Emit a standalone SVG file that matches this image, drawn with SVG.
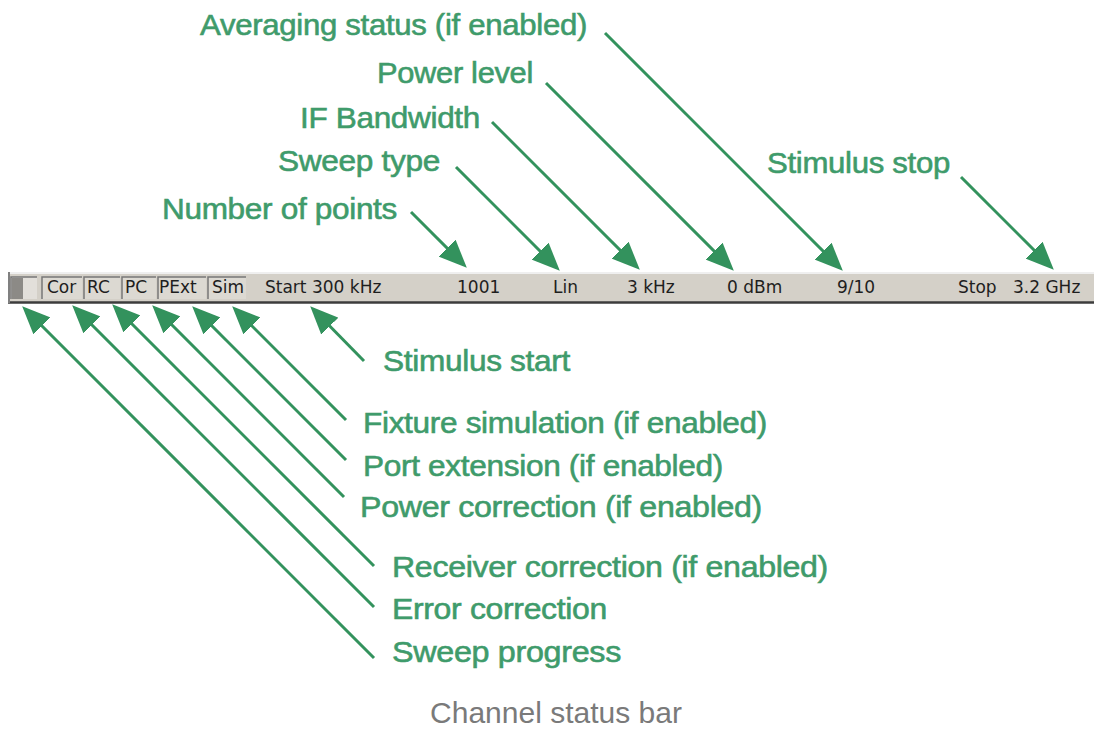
<svg xmlns="http://www.w3.org/2000/svg" width="1094" height="729" viewBox="0 0 1094 729">
<defs>
<marker id="ah" markerUnits="userSpaceOnUse" markerWidth="28" markerHeight="24" viewBox="0 0 28 24" refX="24" refY="12" orient="auto">
<path d="M0,0 L28,12 L0,24 z" fill="#33925d"/>
</marker>
<style>
.lbl{font-family:"Liberation Sans",Arial,sans-serif;font-size:30px;fill:#3f9b6b;stroke:#3f9b6b;stroke-width:0.6px;letter-spacing:-0.3px}
.bar{font-family:"DejaVu Sans",Tahoma,sans-serif;font-size:17px;fill:#1e1e1e}
.cell{fill:#dcd9d2;stroke:none}
.cap{font-family:"Liberation Sans",Arial,sans-serif;font-size:30px;fill:#7a7a7a}
.arr{stroke:#33925d;stroke-width:3;fill:none;marker-end:url(#ah)}
</style>
</defs>
<rect width="1094" height="729" fill="#ffffff"/>

<g id="statusbar">
<rect x="8" y="272" width="1086" height="31" fill="#d4d0c8"/>
<line x1="8" y1="273" x2="1094" y2="273" stroke="#efefef" stroke-width="2"/>
<line x1="8" y1="302.5" x2="1094" y2="302.5" stroke="#3c3c3c" stroke-width="2.5"/>
<line x1="9" y1="272" x2="9" y2="303" stroke="#808080" stroke-width="2"/>
<g id="cell-progress">
<rect x="11" y="277" width="26" height="22" fill="#e2dfda"/>
<rect x="12" y="278" width="11" height="21" fill="#8c8a86"/>
<path d="M11,299 V277 H37" stroke="#777" stroke-width="1.5" fill="none"/>
</g>
<g id="cell-cor"><rect class="cell" x="42" y="277" width="40" height="22"/><path d="M42,299 V277 H82" stroke="#777" stroke-width="1.5" fill="none"/><text class="bar" x="47" y="293">Cor</text></g>
<g id="cell-rc"><rect class="cell" x="84" y="277" width="36" height="22"/><path d="M84,299 V277 H120" stroke="#777" stroke-width="1.5" fill="none"/><text class="bar" x="87" y="293">RC</text></g>
<g id="cell-pc"><rect class="cell" x="122" y="277" width="34" height="22"/><path d="M122,299 V277 H156" stroke="#777" stroke-width="1.5" fill="none"/><text class="bar" x="125" y="293">PC</text></g>
<g id="cell-pext"><rect class="cell" x="158" y="277" width="48" height="22"/><path d="M158,299 V277 H206" stroke="#777" stroke-width="1.5" fill="none"/><text class="bar" x="159" y="293">PExt</text></g>
<g id="cell-sim"><rect class="cell" x="208" y="277" width="38" height="22"/><path d="M208,299 V277 H246" stroke="#777" stroke-width="1.5" fill="none"/><text class="bar" x="212" y="293">Sim</text></g>
<text class="bar" x="265" y="293">Start 300 kHz</text>
<text class="bar" x="457" y="293">1001</text>
<text class="bar" x="553" y="293">Lin</text>
<text class="bar" x="627" y="293">3 kHz</text>
<text class="bar" x="727" y="293">0 dBm</text>
<text class="bar" x="837" y="293">9/10</text>
<text class="bar" x="958" y="293">Stop</text>
<text class="bar" x="1013" y="293">3.2 GHz</text>
</g>

<g id="connectors">
<line class="arr" x1="411" y1="212" x2="464" y2="265"/>
<line class="arr" x1="456" y1="167" x2="557" y2="268"/>
<line class="arr" x1="492" y1="122" x2="637" y2="267"/>
<line class="arr" x1="546" y1="83" x2="731" y2="268"/>
<line class="arr" x1="605" y1="33" x2="840" y2="268"/>
<line class="arr" x1="961" y1="177" x2="1051" y2="267"/>
<line class="arr" x1="364" y1="361" x2="313" y2="309"/>
<line class="arr" x1="346" y1="420" x2="235" y2="309"/>
<line class="arr" x1="346" y1="460" x2="195" y2="309"/>
<line class="arr" x1="344" y1="497" x2="155" y2="308"/>
<line class="arr" x1="374" y1="566" x2="115" y2="307"/>
<line class="arr" x1="374" y1="607" x2="75" y2="308"/>
<line class="arr" x1="374" y1="658" x2="25" y2="309"/>
</g>

<g id="label-averaging"><text class="lbl" x="200" y="35" textLength="387" lengthAdjust="spacingAndGlyphs">Averaging status (if enabled)</text></g>
<g id="label-power-level"><text class="lbl" x="377" y="83" textLength="156" lengthAdjust="spacingAndGlyphs">Power level</text></g>
<g id="label-ifbw"><text class="lbl" x="300" y="128" textLength="180" lengthAdjust="spacingAndGlyphs">IF Bandwidth</text></g>
<g id="label-sweep-type"><text class="lbl" x="278" y="171" textLength="162" lengthAdjust="spacingAndGlyphs">Sweep type</text></g>
<g id="label-points"><text class="lbl" x="162" y="219" textLength="235" lengthAdjust="spacingAndGlyphs">Number of points</text></g>
<g id="label-stim-stop"><text class="lbl" x="767" y="173" textLength="183" lengthAdjust="spacingAndGlyphs">Stimulus stop</text></g>
<g id="label-stim-start"><text class="lbl" x="383" y="371" textLength="187" lengthAdjust="spacingAndGlyphs">Stimulus start</text></g>
<g id="label-fixture"><text class="lbl" x="363" y="433" textLength="404" lengthAdjust="spacingAndGlyphs">Fixture simulation (if enabled)</text></g>
<g id="label-port-ext"><text class="lbl" x="363" y="476" textLength="360" lengthAdjust="spacingAndGlyphs">Port extension (if enabled)</text></g>
<g id="label-power-corr"><text class="lbl" x="360" y="517" textLength="402" lengthAdjust="spacingAndGlyphs">Power correction (if enabled)</text></g>
<g id="label-receiver"><text class="lbl" x="392" y="577" textLength="436" lengthAdjust="spacingAndGlyphs">Receiver correction (if enabled)</text></g>
<g id="label-error"><text class="lbl" x="392" y="619" textLength="215" lengthAdjust="spacingAndGlyphs">Error correction</text></g>
<g id="label-sweep-progress"><text class="lbl" x="392" y="662" textLength="229" lengthAdjust="spacingAndGlyphs">Sweep progress</text></g>

<g id="caption"><text class="cap" x="556" y="723" text-anchor="middle">Channel status bar</text></g>
</svg>
